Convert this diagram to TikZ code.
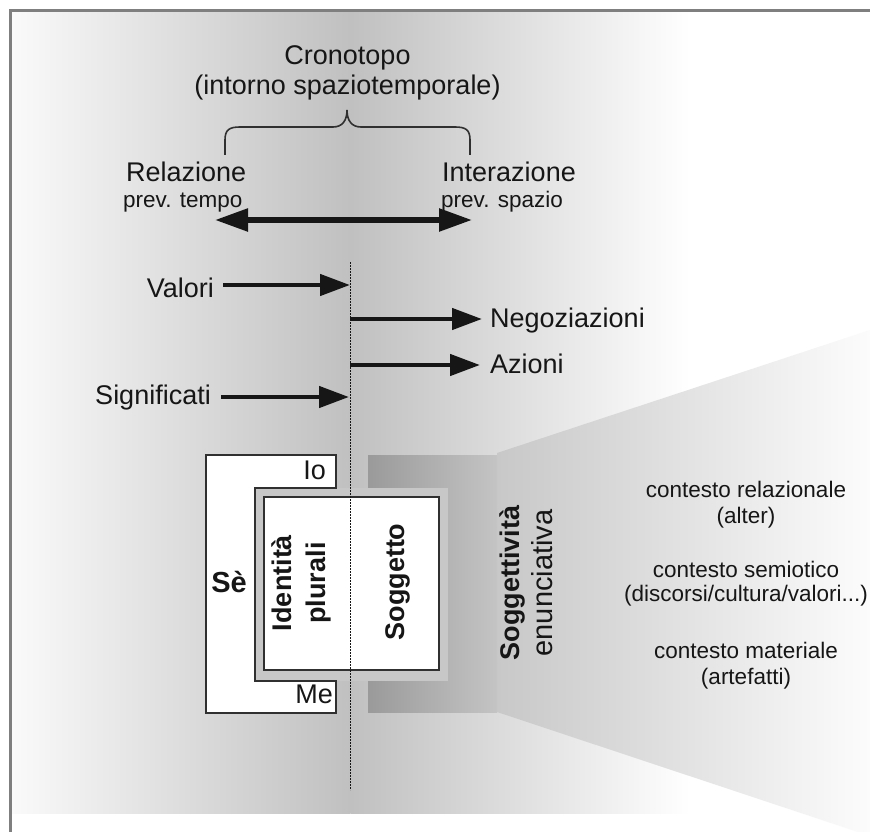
\documentclass[tikz,border=0pt]{standalone}
\usepackage{fontspec}
\setmainfont{Liberation Sans}
\usetikzlibrary{arrows.meta}

\definecolor{ink}{HTML}{161616}
\definecolor{edge}{HTML}{303030}
\definecolor{border}{HTML}{7F7F7F}
\definecolor{bgedge}{HTML}{FAFAFA}
\definecolor{bgmid}{HTML}{C0C0C0}
\definecolor{barL}{HTML}{9A9A9A}
\definecolor{barR}{HTML}{C4C4C4}
\definecolor{funL}{HTML}{C8C8C8}
\definecolor{funR}{HTML}{FCFCFC}
\definecolor{frame}{HTML}{C7C7C7}

\begin{document}
\begin{tikzpicture}[x=1pt,y=-1pt,
  lab/.style={inner sep=0pt, font=\fontsize{27}{32}\selectfont, text=ink},
  sub/.style={inner sep=0pt, font=\fontsize{22.5}{26}\selectfont, text=ink},
  ctx/.style={inner sep=0pt, font=\fontsize{22.5}{26}\selectfont, text=ink},
  boldlab/.style={inner sep=0pt, font=\fontsize{27}{34}\selectfont\bfseries, text=ink},
  arr/.style={draw=ink, line width=4.5pt, -{Triangle[length=30pt,width=21pt]}},
  dblarr/.style={draw=ink, line width=5.5pt,
    {Triangle[length=33pt,width=22pt]}-{Triangle[length=33pt,width=22pt]}},
  outline/.style={draw=edge, line width=2pt},
  axis/.style={draw=ink, line width=1.4pt, dash pattern=on 1.6pt off 1.4pt},
  brace/.style={draw=edge, line width=1.6pt},
]
\useasboundingbox (0,0) rectangle (870,832);
\fill[white] (0,0) rectangle (870,832);

% background band: light at the edges, darkest on the central axis
\shade[left color=bgedge, right color=bgmid] (12,12) rectangle (350.5,813);
\shade[left color=bgmid, right color=white] (350.5,12) rectangle (690,813);

% frame lines (top and left)
\draw[draw=border, line width=3pt] (10.5,832) -- (10.5,10.5) -- (870,10.5);

% context funnel opening to the right
\shade[left color=funL, right color=funR]
  (497,453) -- (870,330) -- (870,836) -- (497,712) -- cycle;

% dark bracket behind the subject block
\shade[left color=barL, right color=barR] (368,455) rectangle (497,712);
\fill[frame] (255,488) rectangle (448,681);

% the Self outline (C shape)
\filldraw[fill=white, outline]
  (206,455) -- (336,455) -- (336,488) -- (255,488) -- (255,681)
  -- (336,681) -- (336,713) -- (206,713) -- cycle;

% inner block
\node[outline, fill=white, minimum width=175pt, minimum height=173pt, inner sep=0pt]
  (core) at (351.5,583.5) {};

% vertical axis
\coordinate (axTop) at (350.5,262);
\coordinate (axBot) at (350.5,790);
\draw[axis] (axTop) -- (axBot);

% chronotope heading and brace
\node[lab, anchor=base] (crono) at (347.5,65) {Cronotopo};
\node[lab, anchor=base] (intorno) at (347.5,95) {(intorno spaziotemporale)};
\draw[brace] (225,155) -- (225,140) .. controls (225,130) and (229,127) .. (240,127)
  -- (333,127) .. controls (342,127) and (347,121) .. (347,110)
  .. controls (347,121) and (352,127) .. (361,127)
  -- (455,127) .. controls (466,127) and (470,130) .. (470,140) -- (470,155);

\node[lab, anchor=base west] (rel) at (126,182) {Relazione};
\node[sub, anchor=base west] (relsub) at (123,207) {prev. tempo};
\node[lab, anchor=base west] (inter) at (442,182) {Interazione};
\node[sub, anchor=base west] (intersub) at (441,207) {prev. spazio};

\coordinate (spanL) at (215,220);
\coordinate (spanR) at (472,220);
\draw[dblarr] (spanL) -- (spanR);

% inputs and outputs across the axis
\node[lab, anchor=base east] (valori) at (214,297) {Valori};
\node[lab, anchor=base west] (negoz) at (490,327) {Negoziazioni};
\node[lab, anchor=base west] (azioni) at (490,373) {Azioni};
\node[lab, anchor=base east] (signif) at (211,404) {Significati};

\coordinate (valS) at (223,285);  \coordinate (valE) at (350,285);
\coordinate (negS) at (350,319);  \coordinate (negE) at (482,319);
\coordinate (aziS) at (350,365);  \coordinate (aziE) at (480,365);
\coordinate (sigS) at (221,397);  \coordinate (sigE) at (349,397);
\draw[arr] (valS) -- (valE);
\draw[arr] (negS) -- (negE);
\draw[arr] (aziS) -- (aziE);
\draw[arr] (sigS) -- (sigE);

% labels of the subject block
\node[lab, anchor=base east] (io) at (326,479) {Io};
\node[lab, anchor=base east] (me) at (333,703) {Me};
\node[inner sep=0pt, font=\fontsize{29}{34}\selectfont\bfseries, text=ink, anchor=base]
  (se) at (229,592) {Sè};
\node[boldlab, rotate=90, align=center] (ident) at (301,583) {Identità\\plurali};
\node[boldlab, rotate=90] (sogg) at (398,582) {Soggetto};
\node[inner sep=0pt, font=\fontsize{29}{33}\selectfont, text=ink, rotate=90, align=center]
  (enunc) at (526.5,583) {{\fontsize{27}{33}\selectfont\bfseries Soggettività}\\enunciativa};

% contexts
\node[ctx, anchor=base] (c1) at (746,497) {contesto relazionale};
\node[ctx, anchor=base] (c1b) at (746,523) {(alter)};
\node[ctx, anchor=base] (c2) at (746,577) {contesto semiotico};
\node[ctx, anchor=base] (c2b) at (746,601) {(discorsi/cultura/valori...)};
\node[ctx, anchor=base] (c3) at (746,658) {contesto materiale};
\node[ctx, anchor=base] (c3b) at (746,684) {(artefatti)};
\end{tikzpicture}
\end{document}
